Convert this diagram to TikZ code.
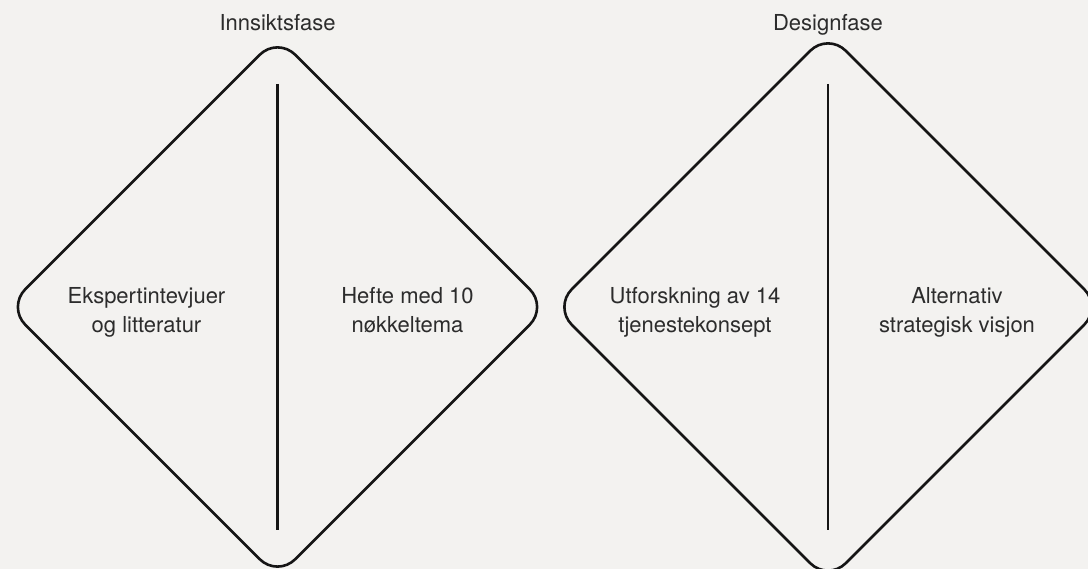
\documentclass[tikz,border=0pt]{standalone}
\usepackage{fontspec}
\setmainfont{TeX Gyre Heros}
\usepackage{tikz}
\usetikzlibrary{positioning,shapes.geometric}
\definecolor{paper}{HTML}{F3F2F0}
\definecolor{ink}{HTML}{151515}
\tikzset{phase/.style={diamond,draw=ink,line width=2.6pt,rounded corners=25pt,inner sep=0pt},divider/.style={draw=ink,line width=2.6pt},txt/.style={align=center,font=\fontsize{22}{29}\selectfont,text=ink!90,inner sep=0pt,anchor=north},heading/.style={txt,anchor=base}}
\begin{document}
\begin{tikzpicture}[x=1pt,y=1pt]
\fill[paper] (0,0) rectangle (1088,569);
\useasboundingbox (0,0) rectangle (1088,569);
\node[phase,minimum width=541pt,minimum height=541pt] (inn) at (277.5,262) {};
\node[phase,minimum width=549pt,minimum height=549pt] (des) at (828,262) {};
\node[heading] (innTitle) at ([yshift=5pt]inn.north) {Innsiktsfase};
\node[heading] (desTitle) at ([yshift=1pt]des.north) {Designfase};
\foreach \d in {inn,des}
 {\coordinate (\d-top) at ([yshift=223pt]\d.center);\coordinate (\d-bot) at ([yshift=-223pt]\d.center);
  \draw[divider] (\d-top) -- (\d-bot);}
\node[txt] (innLeft) at ([shift={(-131pt,20pt)}]inn.center) {Ekspertintevjuer\\og litteratur};
\node[txt] (innRight) at ([shift={(130pt,20pt)}]inn.center) {Hefte med 10\\nøkkeltema};
\node[txt] (desLeft) at ([shift={(-133pt,20pt)}]des.center) {Utforskning av 14\\tjenestekonsept};
\node[txt] (desRight) at ([shift={(129pt,20pt)}]des.center) {Alternativ\\strategisk visjon};
\end{tikzpicture}
\end{document}
